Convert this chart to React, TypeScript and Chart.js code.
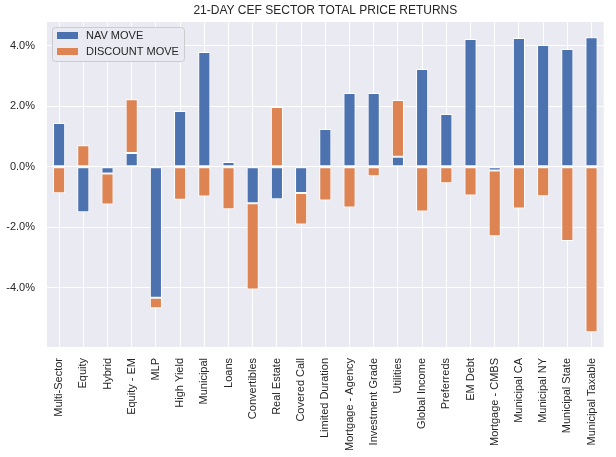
import React, { useEffect, useRef } from "react";
import { Chart, registerables } from "chart.js";

Chart.register(...registerables);

const chartTitle = "21-DAY CEF SECTOR TOTAL PRICE RETURNS";
const seriesNames = ["NAV MOVE", "DISCOUNT MOVE"];
const seriesColors = ["#4C72B0", "#DD8452"];

const categories = [
  "Multi-Sector",
  "Equity",
  "Hybrid",
  "Equity - EM",
  "MLP",
  "High Yield",
  "Municipal",
  "Loans",
  "Convertibles",
  "Real Estate",
  "Covered Call",
  "Limited Duration",
  "Mortgage - Agency",
  "Investment Grade",
  "Utilities",
  "Global Income",
  "Preferreds",
  "EM Debt",
  "Mortgage - CMBS",
  "Municipal CA",
  "Municipal NY",
  "Municipal State",
  "Municipal Taxable",
];

const navMove = [
  1.44, -1.51, -0.23, 0.45, -4.33, 1.84, 3.79, 0.15, -1.21, -1.08, -0.87, 1.24,
  2.43, 2.43, 0.33, 3.23, 1.74, 4.22, -0.13, 4.25, 4.02, 3.89, 4.28,
];

const discountMove = [
  -0.88, 0.71, -1.02, 1.78, -0.35, -1.09, -0.99, -1.41, -2.85, 1.97, -1.04, -1.12,
  -1.35, -0.32, 1.87, -1.48, -0.55, -0.95, -2.17, -1.38, -0.98, -2.46, -5.47,
];

const yTickValues = [-4, -2, 0, 2, 4];
const yMin = -5.96;
const yMax = 4.78;

const FONT = "'Liberation Sans', Arial, sans-serif";
const TEXT = "#262626";
const AXBG = "#EAEAF2";

export default function App() {
  const ref = useRef<HTMLCanvasElement>(null);

  useEffect(() => {
    document.body.style.margin = "0";
    const canvas = ref.current;
    if (!canvas) return;

    const bgPlugin = {
      id: "bgPlugin",
      beforeDraw(chart: any) {
        const { ctx, chartArea } = chart;
        ctx.save();
        ctx.fillStyle = "#ffffff";
        ctx.fillRect(0, 0, chart.width, chart.height);
        ctx.fillStyle = AXBG;
        ctx.fillRect(
          chartArea.left,
          chartArea.top,
          chartArea.right - chartArea.left,
          chartArea.bottom - chartArea.top
        );
        ctx.restore();
      },
    };

    const overlayPlugin = {
      id: "overlayPlugin",
      afterDraw(chart: any) {
        const { ctx, chartArea } = chart;
        ctx.save();
        // title
        ctx.fillStyle = TEXT;
        ctx.font = `12px ${FONT}`;
        ctx.textAlign = "center";
        ctx.textBaseline = "middle";
        ctx.fillText(chartTitle, (chartArea.left + chartArea.right) / 2, 11);

        // legend
        const bx = chartArea.left + 5;
        const by = chartArea.top + 5;
        const bw = 132;
        const bh = 34;
        ctx.beginPath();
        ctx.roundRect(bx + 0.5, by + 0.5, bw, bh, 3);
        ctx.fillStyle = AXBG;
        ctx.fill();
        ctx.strokeStyle = "#CCCCCC";
        ctx.lineWidth = 1;
        ctx.stroke();

        ctx.font = `11px ${FONT}`;
        ctx.textAlign = "left";
        ctx.textBaseline = "middle";
        seriesNames.forEach((name, i) => {
          const rowY = by + 8.5 + i * 16;
          ctx.fillStyle = seriesColors[i];
          ctx.fillRect(bx + 5, rowY - 3.5, 21, 7);
          ctx.fillStyle = TEXT;
          ctx.fillText(name, bx + 34, rowY);
        });
        ctx.restore();
      },
    };

    const chart = new Chart(canvas, {
      type: "bar",
      data: {
        labels: categories,
        datasets: [
          {
            label: seriesNames[0],
            data: navMove,
            backgroundColor: seriesColors[0],
            borderColor: "#ffffff",
            borderWidth: 1,
            borderSkipped: false,
            barPercentage: 0.5,
            categoryPercentage: 1.0,
          },
          {
            label: seriesNames[1],
            data: discountMove,
            backgroundColor: seriesColors[1],
            borderColor: "#ffffff",
            borderWidth: 1,
            borderSkipped: false,
            barPercentage: 0.5,
            categoryPercentage: 1.0,
          },
        ],
      },
      options: {
        responsive: false,
        animation: false,
        layout: { padding: { top: 22, right: 12, left: 0, bottom: 0 } },
        plugins: {
          legend: { display: false },
          title: { display: false },
          tooltip: { enabled: false },
        },
        scales: {
          x: {
            stacked: true,
            offset: true,
            grid: {
              color: "#ffffff",
              lineWidth: 1,
              offset: false,
              drawTicks: false,
            },
            border: { display: false },
            ticks: {
              autoSkip: false,
              maxRotation: 90,
              minRotation: 90,
              padding: 11,
              color: TEXT,
              font: { family: FONT, size: 11 },
            },
            afterFit: (s: any) => {
              s.height = 110;
            },
          },
          y: {
            stacked: true,
            min: yMin,
            max: yMax,
            grid: {
              color: "#ffffff",
              lineWidth: 1,
              drawTicks: false,
            },
            border: { display: false },
            afterBuildTicks: (s: any) => {
              s.ticks = yTickValues.map((v) => ({ value: v }));
            },
            ticks: {
              padding: 12,
              color: TEXT,
              font: { family: FONT, size: 11 },
              callback: (v: any) => Number(v).toFixed(1) + "%",
            },
            afterFit: (s: any) => {
              s.width = 47;
            },
          },
        },
      },
      plugins: [bgPlugin, overlayPlugin],
    } as any);

    return () => chart.destroy();
  }, []);

  return (
    <canvas
      ref={ref}
      width={616}
      height={457}
      style={{ display: "block", width: 616, height: 457 }}
    />
  );
}
